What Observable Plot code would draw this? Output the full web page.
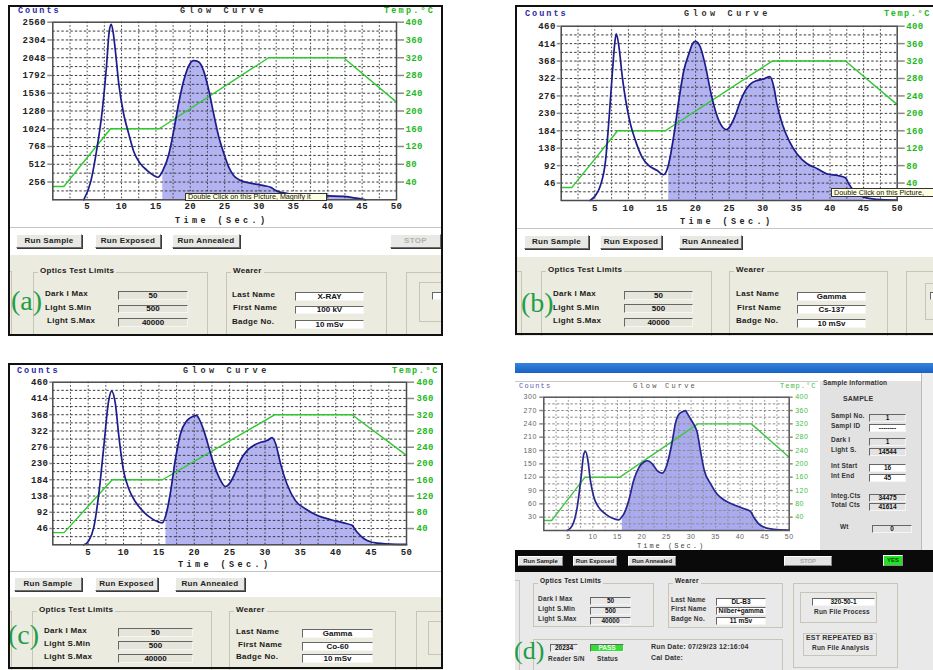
<!DOCTYPE html>
<html><head><meta charset="utf-8">
<script src="https://cdn.jsdelivr.net/npm/d3@7"></script>
<script src="https://cdn.jsdelivr.net/npm/@observablehq/plot@0.6"></script>
<style>
html,body{margin:0;padding:0;}
body{width:933px;height:670px;position:relative;overflow:hidden;background:#fff;}
</style></head><body>
<script>
// ---------- DATA ----------
const timeTicks = [5, 10, 15, 20, 25, 30, 35, 40, 45, 50];
const tempTicks = [40, 80, 120, 160, 200, 240, 280, 320, 360, 400];
const tempTime  = [0, 1.6, 8.4, 15.5, 31.4, 42.3, 50];
const tempValue = [30, 30, 160, 160, 320, 320, 220];

const countTicksA = [256, 512, 768, 1024, 1280, 1536, 1792, 2048, 2304, 2560];
const countTicksB = [46, 92, 138, 184, 230, 276, 322, 368, 414, 460];
const countTicksC = [46, 92, 138, 184, 230, 276, 322, 368, 414, 460];
const countTicksD = [30, 60, 90, 120, 150, 180, 210, 240, 270, 300];

const aTime   = [4.5, 5.5, 6.45, 7.2, 7.8, 8.2, 8.5, 8.8, 9.1, 9.6, 10.3, 11.05, 11.8, 12.75, 13.7, 14.7, 15.3, 16, 16.9, 17.6, 18.3, 19.05, 19.8, 20.5, 21.25, 22, 22.7, 23.4, 24.15, 24.9, 25.6, 26.3, 27.3, 28.75, 30.7, 31.7, 32.6, 34.6, 38.5, 42.3, 43.8, 45, 45.5];
const aCounts = [0, 255, 760, 1290, 1910, 2420, 2530, 2400, 2150, 1670, 1240, 950, 690, 520, 425, 350, 325, 420, 665, 1000, 1385, 1720, 1935, 2005, 1985, 1840, 1575, 1240, 905, 665, 470, 350, 280, 240, 205, 180, 125, 85, 62, 48, 28, 10, 0];

const bTime   = [4.3, 5.1, 5.85, 6.6, 7.1, 7.6, 8.0, 8.2, 8.6, 9.1, 9.6, 10.3, 11.05, 12.05, 13.05, 14.3, 15.2, 15.6, 16, 16.8, 17.5, 18.25, 19.0, 19.6, 20.0, 20.7, 21.5, 22.2, 22.95, 23.7, 24.6, 25.2, 25.9, 26.7, 27.4, 28.2, 29.2, 30.2, 31.05, 31.65, 32.1, 32.9, 33.9, 35.1, 36.6, 38.1, 39.6, 41.1, 42.3, 42.8, 43.55, 45, 47, 49.5, 50];
const bCounts = [0, 13, 40, 105, 211, 334, 420, 440, 405, 325, 264, 202, 158, 114, 92, 79, 68, 75, 97, 176, 264, 343, 387, 415, 420, 405, 352, 290, 237, 202, 187, 198, 224, 264, 290, 308, 317, 321, 327, 299, 255, 202, 158, 123, 97, 84, 70, 66, 60, 44, 26, 9, 3, 1, 1];

const cTime   = [4.4, 5.1, 5.8, 6.5, 7.2, 7.9, 8.3, 8.85, 9.3, 10.0, 10.75, 11.7, 12.9, 14.0, 15.0, 15.45, 16, 16.6, 17.3, 18.05, 19.0, 19.9, 20.3, 20.6, 21.35, 22.05, 22.75, 23.5, 24.4, 25.1, 25.8, 26.5, 27.5, 28.4, 29.4, 30.3, 31.0, 31.5, 32.2, 33.1, 34.3, 35.7, 37.4, 39.3, 41.1, 42.3, 43.0, 44.0, 45.0, 45.4, 47.7, 50];
const cCounts = [0, 12, 50, 144, 276, 408, 435, 399, 314, 210, 158, 121, 92, 74, 64, 62, 85, 144, 238, 314, 352, 364, 366, 359, 323, 276, 229, 191, 165, 177, 205, 238, 267, 281, 290, 295, 303, 286, 229, 172, 125, 102, 83, 71, 62, 55, 36, 17, 8, 6, 2, 1];

const dTime   = [4.75, 5.8, 6.8, 7.6, 8.15, 8.5, 9.0, 9.5, 10.2, 11.2, 12.6, 13.9, 15.3, 16, 16.3, 17.3, 18.3, 19.4, 20.4, 21.2, 22.1, 23.1, 24.1, 24.8, 25.5, 26.2, 26.8, 27.5, 28.4, 28.9, 29.2, 29.9, 30.7, 31.25, 31.9, 32.7, 34.0, 35.3, 37.0, 38.7, 40.8, 42.1, 42.8, 43.8, 45.0, 45.2, 47.6, 50];
const dCounts = [0, 11, 52, 120, 172, 178, 157, 112, 75, 52, 37, 28, 24, 32, 37, 67, 112, 142, 154, 157, 150, 135, 129, 139, 165, 202, 240, 261, 268, 270, 264, 251, 236, 221, 180, 135, 105, 82, 67, 58, 49, 43, 30, 15, 7, 6, 2, 1];

const integStart = 16, integEnd = 45;

// ---------- HELPERS ----------
const UIF = "'Liberation Sans',Arial,sans-serif";
const MONO = "'Liberation Mono','DejaVu Sans Mono',monospace";
function panel(x1, y1, x2, y2, bg) {
  const e = document.createElement("div");
  e.style.cssText = `position:absolute;left:${x1}px;top:${y1}px;width:${x2 - x1}px;height:${y2 - y1}px;overflow:hidden;background:${bg};`;
  document.body.appendChild(e);
  return {el: e, ox: x1, oy: y1};
}
function mk(p, css, txt) {
  const e = document.createElement("div");
  e.style.cssText = "position:absolute;box-sizing:border-box;" + css;
  if (txt != null) e.textContent = txt;
  p.el.appendChild(e);
  return e;
}
function R(p, x1, y1, x2, y2, css, txt) {
  return mk(p, `left:${x1 - p.ox}px;top:${y1 - p.oy}px;width:${x2 - x1}px;height:${y2 - y1}px;` + css, txt);
}
function T(p, x, yc, txt, css) {
  return mk(p, `left:${x - p.ox}px;top:${yc - p.oy - 6}px;line-height:12px;white-space:nowrap;` + (css || ""), txt);
}
const LBL = `font:bold 8px ${UIF};color:#1a1a1a;letter-spacing:0.3px;`;
function btn(p, x1, y1, x2, y2, label, css) {
  R(p, x1, y1, x2, y2, `background:#e8e8e4;border:1px solid;border-color:#fff #6c6c6c #6c6c6c #fff;box-shadow:1px 1px 0 #3a3a3a;font:bold 8px ${UIF};color:#222;text-align:center;line-height:${y2 - y1 - 2}px;letter-spacing:0.3px;white-space:nowrap;overflow:hidden;` + (css || ""), label);
}
function field(p, x1, y1, x2, y2, val, white, css) {
  R(p, x1, y1, x2, y2, `background:${white ? "#fff" : "#e6e5dc"};border:1px solid;border-color:#666 #f5f5f5 #f5f5f5 #666;font:bold 8px ${UIF};color:#111;text-align:center;line-height:${y2 - y1 - 2}px;white-space:nowrap;overflow:hidden;` + (css || ""), val);
}
function group(p, x1, y1, x2, y2, label, bg, css) {
  R(p, x1, y1, x2, y2, "border:1px solid #c6c5b8;");
  if (label) T(p, x1 + 5, y1, label, `padding:0 2px;background:${bg};` + LBL + (css || ""));
}
const TAG = "font:28px 'Liberation Serif','Times New Roman',serif;color:#1f9e48;line-height:28px;white-space:nowrap;";
function tag(p, x, y, txt, css) { R(p, x, y, x + 40, y + 28, TAG + (css || ""), txt); }

function glow(p, c) {
  const k = c.ymax / 400;
  const curve = c.times.map((t, i) => ({t, v: c.counts[i]}));
  const temp = tempTime.map((t, i) => ({t, v: tempValue[i] * k}));
  const area = curve.filter(d => d.t >= integStart && d.t <= integEnd);
  const step = c.ticks[0];
  const yGrid = d3.range(1, 20).map(i => i * step / 2);
  const xGrid = d3.range(1, 20).map(i => i * 2.5);
  const svg = Plot.plot({
    width: c.w, height: c.h,
    marginLeft: c.ml, marginRight: c.mr, marginTop: c.mt, marginBottom: c.mb,
    x: {domain: [0, 50]},
    y: {domain: [0, c.ymax]},
    style: {background: "transparent", fontFamily: c.font, fontSize: c.fs, fontWeight: c.fw, letterSpacing: c.ls, overflow: "visible"},
    marks: [
      Plot.areaY(area, {x: "t", y: "v", fill: c.fill, curve: "monotone-x"}),
      Plot.ruleY(yGrid, {stroke: c.grid, strokeWidth: 1, strokeDasharray: "2.5,2"}),
      Plot.ruleX(xGrid, {stroke: c.grid, strokeWidth: 1, strokeDasharray: "1.5,2"}),
      Plot.line(temp, {x: "t", y: "v", stroke: c.green, strokeWidth: 1.4}),
      Plot.line(curve, {x: "t", y: "v", stroke: c.navy, strokeWidth: 1.7, curve: "monotone-x"}),
      Plot.frame({stroke: c.frame, strokeWidth: 1.5}),
      Plot.axisY(c.ticks, {anchor: "left", tickSize: c.lt, tickPadding: c.lp, stroke: "#8a8a8a", strokeWidth: 1.5, fill: c.txt, label: null, tickFormat: v => String(v)}),
      Plot.axisY(tempTicks.map(v => v * k), {anchor: "right", tickSize: c.rt, tickPadding: c.rp, stroke: "#8a8a8a", strokeWidth: 1.5, fill: c.rtxt, label: null, tickFormat: v => String(Math.round(v / k))}),
      Plot.axisX(timeTicks, {anchor: "bottom", tickSize: 0, tickPadding: c.xp, fill: c.txt, label: null, tickFormat: v => String(v)})
    ]
  });
  svg.style.position = "absolute";
  svg.style.left = (c.x - p.ox) + "px";
  svg.style.top = (c.y - p.oy) + "px";
  p.el.appendChild(svg);
}
const classic = {font: MONO, fs: "9px", fw: "bold", ls: "0.4px", fill: "#b3b3f2", grid: "#3c3c3c", green: "#2fc92f", navy: "#1c1c8a", frame: "#4a4a4a", txt: "#222", rtxt: "#1fb81f"};
function headers(p, cx, cy, gx, tx, timeX, timeY, tls) {
  const H = `font:bold 8.5px ${MONO};`;
  T(p, cx, cy, "Counts", H + "color:#2a2aa2;letter-spacing:2px;");
  T(p, gx, cy, "Glow Curve", H + "color:#333;letter-spacing:3.6px;");
  T(p, tx, cy, "Temp.°C", H + `color:#22b822;letter-spacing:${tls}px;`);
  T(p, timeX, timeY, "Time (Sec.)", H + "color:#222;letter-spacing:3.4px;");
}
const GRAY = "#ecebdf";

// ---------- PANEL (a) ----------
const A = panel(8, 5, 443, 336, "#fff");
R(A, 8, 227, 443, 228, "background:#c4c4c4;");
R(A, 8, 255, 443, 336, `background:${GRAY};`);
headers(A, 18, 12, 180, 384, 175, 222, 2.2);
glow(A, {...classic, x: 10, y: 14, w: 430, h: 200, ml: 42.3, mr: 44, mt: 7.7, mb: 14.7, ymax: 2560, ticks: countTicksA, times: aTime, counts: aCounts, lt: 5, lp: 2, rt: 7, rp: 2, xp: 3});
R(A, 185, 193, 327, 201, `background:#ffffe1;border:1px solid #333;font:7.2px ${UIF};color:#111;line-height:6px;padding-left:2px;white-space:nowrap;`, "Double Click on this  Picture, Magnify it");
btn(A, 16, 234, 82, 248, "Run Sample");
btn(A, 95, 234, 161, 248, "Run Exposed");
btn(A, 172, 234, 240, 248, "Run Annealed");
btn(A, 390, 234, 441, 248, "STOP", "color:#b0b0b0;");
group(A, 4, 271, 12, 345, null, GRAY);
group(A, 33, 272, 208, 345, "Optics Test Limits", GRAY);
T(A, 45, 295, "Dark I Max", LBL); field(A, 118, 291, 188, 300, "50");
T(A, 45, 309, "Light S.Min", LBL); field(A, 118, 305, 188, 313, "500");
T(A, 47, 322, "Light S.Max", LBL); field(A, 118, 318, 188, 327, "40000");
group(A, 226, 272, 387, 345, "Wearer", GRAY);
T(A, 232, 296, "Last Name", LBL); field(A, 295, 292, 364, 301, "X-RAY", true);
T(A, 233, 309, "First Name", LBL); field(A, 295, 306, 364, 314, "100 kV", true);
T(A, 232, 323, "Badge No.", LBL); field(A, 295, 320, 364, 329, "10 mSv", true);
group(A, 406, 272, 460, 345, null, GRAY);
group(A, 419, 282, 460, 322, null, GRAY);
field(A, 432, 292, 452, 300, "", true);
tag(A, 11, 287, "(a)");
R(A, 8, 5, 443, 336, "border:2px solid #111;");

// ---------- PANEL (b) ----------
const B = panel(515, 5, 933, 336, "#fff");
R(B, 515, 228, 933, 229, "background:#c4c4c4;");
R(B, 515, 257, 933, 336, `background:${GRAY};`);
headers(B, 525, 15, 684, 884, 680, 223, 1.6);
glow(B, {...classic, x: 518, y: 16, w: 415, h: 200, ml: 42.7, mr: 36.3, mt: 9.7, mb: 16, ymax: 460, ticks: countTicksB, times: bTime, counts: bCounts, lt: 4, lp: 1.5, rt: 7, rp: 2, xp: 4});
R(B, 831, 188, 933, 197, `background:#ffffe1;border:1px solid #333;border-right:none;font:7.2px ${UIF};color:#111;line-height:7px;padding-left:2px;white-space:nowrap;`, "Double Click on this  Picture,");
btn(B, 524, 235, 589, 249, "Run Sample");
btn(B, 600, 235, 662, 249, "Run Exposed");
btn(B, 679, 235, 742, 249, "Run Annealed");
group(B, 511, 271, 522, 345, null, GRAY);
group(B, 541, 271, 712, 345, "Optics Test Limits", GRAY);
T(B, 553, 295, "Dark I Max", LBL); field(B, 624, 291, 693, 300, "50");
T(B, 553, 309, "Light S.Min", LBL); field(B, 624, 304, 693, 313, "500");
T(B, 553, 322, "Light S.Max", LBL); field(B, 624, 318, 693, 327, "40000");
group(B, 729, 271, 888, 345, "Wearer", GRAY);
T(B, 736, 295, "Last Name", LBL); field(B, 797, 292, 866, 301, "Gamma", true);
T(B, 737, 309, "First Name", LBL); field(B, 797, 305, 866, 314, "Cs-137", true);
T(B, 736, 322, "Badge No.", LBL); field(B, 797, 319, 866, 328, "10 mSv", true);
group(B, 906, 271, 960, 345, null, GRAY);
group(B, 925, 283, 960, 320, null, GRAY);
field(B, 930, 292, 950, 300, "", true);
tag(B, 521, 289, "(b)");
R(B, 515, 5, 940, 335, "border:2px solid #111;border-right:none;");

// ---------- PANEL (c) ----------
const C = panel(8, 363, 443, 670, "#fff");
R(C, 8, 571, 443, 572, "background:#c4c4c4;");
R(C, 8, 597, 443, 670, `background:${GRAY};`);
headers(C, 17, 372, 183, 392, 178, 566, 1.6);
glow(C, {...classic, x: 10, y: 374, w: 430, h: 186, ml: 42.3, mr: 34, mt: 7.7, mb: 15.7, ymax: 460, ticks: countTicksC, times: cTime, counts: cCounts, lt: 3, lp: 1.5, rt: 7, rp: 3, xp: 4});
btn(C, 14, 577, 82, 591, "Run Sample");
btn(C, 95, 577, 158, 591, "Run Exposed");
btn(C, 175, 577, 245, 591, "Run Annealed");
group(C, 4, 611, 12, 680, null, GRAY);
group(C, 32, 611, 212, 680, "Optics Test Limits", GRAY);
T(C, 44, 632, "Dark I Max", LBL); field(C, 118, 628, 193, 637, "50");
T(C, 44, 645, "Light S.Min", LBL); field(C, 118, 641, 193, 650, "500");
T(C, 44, 658, "Light S.Max", LBL); field(C, 118, 654, 193, 663, "40000");
group(C, 229, 611, 396, 680, "Wearer", GRAY);
T(C, 236, 633, "Last Name", LBL); field(C, 302, 629, 373, 638, "Gamma", true);
T(C, 238, 646, "First Name", LBL); field(C, 302, 642, 373, 651, "Co-60", true);
T(C, 236, 658, "Badge No.", LBL); field(C, 302, 654, 373, 663, "10 mSv", true);
group(C, 416, 611, 460, 680, null, GRAY);
group(C, 428, 621, 460, 655, null, GRAY);
tag(C, 8, 621, "(c)");
R(C, 8, 363, 443, 669, "border:2px solid #111;");

// ---------- PANEL (d) ----------
const D = panel(515, 363, 933, 670, "#fff");
const DL = `font:bold 6.5px ${UIF};color:#333;letter-spacing:0.2px;`;
R(D, 515, 363, 933, 373, "background:linear-gradient(#3583dc,#1862c4);");
R(D, 515, 381, 818, 382, "background:#c8c8c8;");
T(D, 519, 388, "Counts", `font:7px ${MONO};color:#5a5ab0;letter-spacing:1.2px;`);
T(D, 633, 388, "Glow Curve", `font:7px ${MONO};color:#555;letter-spacing:2.2px;`);
T(D, 780, 388, "Temp.°C", `font:7px ${MONO};color:#44bb44;letter-spacing:1px;`);
T(D, 637, 548, "Time (Sec.)", `font:7px ${MONO};color:#444;letter-spacing:2px;`);
glow(D, {font: UIF, fs: "7px", fw: "normal", ls: "0.5px", fill: "#aaaaee", grid: "#8a8a8a", green: "#3fc83f", navy: "#262690", frame: "#555", txt: "#666", rtxt: "#44c044",
  x: 517, y: 390, w: 300, h: 154, ml: 26.3, mr: 28.3, mt: 6.7, mb: 14, ymax: 300, ticks: countTicksD, times: dTime, counts: dCounts, lt: 4, lp: 3, rt: 3, rp: 3, xp: 4});
// sample information panel
R(D, 820, 381, 921, 550, "background:#e2e2e2;");
R(D, 921, 373, 933, 550, "background:#eeeeee;border-left:1px solid #bbb;");
T(D, 823, 385, "Sample Information", DL);
T(D, 843, 401, "SAMPLE", DL + "font-size:7px;");
const SV = "overflow:visible;";
const sField = (lab, yc, val, white) => { T(D, 831, yc, lab, DL); field(D, 869, yc - 4, 906, yc + 4, val, white, `font:bold 6.5px ${UIF};line-height:6px;${SV}background:${white ? "#fff" : "#e2e2e2"};`); };
sField("Sampl No.", 418, "1");
sField("Sampl ID", 428, "--------", true);
sField("Dark I", 442, "1");
sField("Light S.", 452, "14544");
sField("Int Start", 468, "16", true);
sField("Int End", 478, "45", true);
sField("Integ.Cts", 498, "34475");
sField("Total Cts", 507, "41614");
T(D, 840, 529, "Wt", DL); field(D, 872, 525, 912, 533, "0", false, `font:bold 6.5px ${UIF};line-height:6px;${SV}background:#e2e2e2;`);
// black button bar
R(D, 515, 550, 933, 572, "background:#0a0a0a;");
const dBtn = `font:bold 6px ${UIF};box-shadow:none;border-color:#fff #888 #888 #fff;background:#e4e4e4;line-height:8px;letter-spacing:0;`;
btn(D, 518, 556, 563, 566, "Run Sample", dBtn);
btn(D, 573, 556, 617, 566, "Run Exposed", dBtn);
btn(D, 628, 556, 676, 566, "Run Annealed", dBtn);
btn(D, 784, 556, 832, 566, "STOP", dBtn + "color:#aaa;");
btn(D, 883, 555, 903, 566, "YES", dBtn + "background:#22e022;color:#0a4a0a;line-height:9px;");
// lower area
const DG = "#e9e9e9";
R(D, 515, 572, 933, 670, `background:${DG};`);
group(D, 511, 580, 520, 680, null, DG);
group(D, 533, 583, 654, 627, "Optics Test Limits", DG, `font:bold 6.5px ${UIF};`);
const dF = `font:bold 6.5px ${UIF};background:#e9e9e9;line-height:5.5px;${SV}`;
const dW = `font:bold 6.5px ${UIF};line-height:5.5px;${SV}`;
T(D, 538, 601, "Dark I Max", DL); field(D, 590, 597, 631, 605, "50", false, dF);
T(D, 538, 611, "Light S.Min", DL); field(D, 590, 607, 631, 615, "500", false, dF);
T(D, 538, 621, "Light S.Max", DL); field(D, 590, 617, 631, 625, "40000", false, dF);
group(D, 668, 583, 783, 628, "Wearer", DG, `font:bold 6.5px ${UIF};`);
T(D, 671, 602, "Last Name", DL); field(D, 716, 598, 766, 606, "DL-B3", true, dW);
T(D, 671, 611, "First Name", DL); field(D, 716, 607, 766, 615, "Nilber+gamma", true, dW);
T(D, 671, 621, "Badge No.", DL); field(D, 716, 617, 766, 625, "11 mSv", true, dW);
group(D, 793, 583, 898, 668, null, DG);
group(D, 800, 592, 877, 623, null, DG);
field(D, 812, 598, 875, 606, "320-50-1", true, dW);
T(D, 814, 614, "Run File Process", DL);
group(D, 803, 633, 877, 656, null, DG);
T(D, 806, 640, "EST REPEATED B3", DL + "font-size:7px;");
T(D, 812, 650, "Run File Analysis", DL);
group(D, 533, 639, 783, 680, null, DG);
field(D, 550, 644, 578, 652, "20234", false, dF);
T(D, 548, 661, "Reader S/N", DL);
field(D, 590, 644, 624, 652, "PASS", false, dW + "background:#33dd33;color:#f2fff2;");
T(D, 597, 661, "Status", DL);
T(D, 651, 649, "Run Date: 07/29/23 12:16:04", DL + "font-size:7px;");
T(D, 651, 660, "Cal Date:", DL + "font-size:7px;");
tag(D, 514, 637, "(d)", "font-size:26px;");
</script>
</body></html>
